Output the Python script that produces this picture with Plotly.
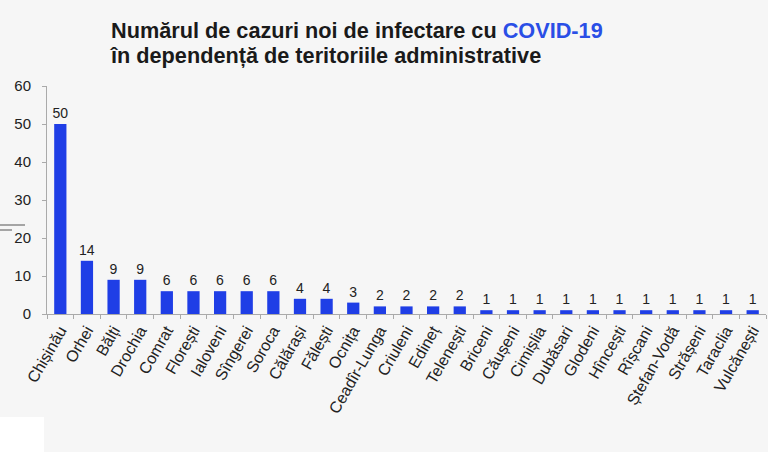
import plotly.graph_objects as go

categories = ["Chișinău", "Orhei", "Bălți", "Drochia", "Comrat", "Florești", "Ialoveni",
              "Sîngerei", "Soroca", "Călărași", "Fălești", "Ocnița", "Ceadîr-Lunga",
              "Criuleni", "Edineț", "Telenești", "Briceni", "Căușeni", "Cimișlia",
              "Dubăsari", "Glodeni", "Hîncești", "Rîșcani", "Ștefan-Vodă", "Strășeni",
              "Taraclia", "Vulcănești"]
values = [50, 14, 9, 9, 6, 6, 6, 6, 6, 4, 4, 3, 2, 2, 2, 2, 1, 1, 1, 1, 1, 1, 1, 1, 1, 1, 1]
y_ticks = [0, 10, 20, 30, 40, 50, 60]

W, H = 768, 452
L, R, T, B = 47, 2, 86, 138
FONT = "Liberation Sans, Arial, sans-serif"
BAR = "#1f3ee6"

fig = go.Figure(go.Bar(
    x=categories, y=values, width=0.46,
    marker=dict(color=BAR, line=dict(width=0)),
    text=[str(v) for v in values], textposition="outside",
    constraintext="none",
    textfont=dict(family=FONT, size=14, color="#222"),
    cliponaxis=False,
))

def px_x(p):
    return (p - L) / (W - L - R)

def px_y(p):
    return (H - B - p) / (H - T - B)

fig.update_layout(
    width=W, height=H,
    margin=dict(l=L, r=R, t=T, b=B, pad=0),
    paper_bgcolor="#f6f6f6", plot_bgcolor="#f6f6f6",
    showlegend=False,
    font=dict(family=FONT, color="#222"),
    xaxis=dict(showgrid=False, showline=True, linecolor="#aaaaaa", linewidth=1,
               ticks="outside", tickson="boundaries", ticklen=4, tickcolor="#aaaaaa",
               tickangle=-60, tickfont=dict(family=FONT, size=16, color="#222")),
    yaxis=dict(range=[0, 60], tickvals=y_ticks, showgrid=False, zeroline=False,
               showline=True, linecolor="#aaaaaa", linewidth=1,
               ticks="outside", ticklen=4, tickcolor="#aaaaaa", ticklabelstandoff=8,
               tickfont=dict(family=FONT, size=15, color="#222")),
    annotations=[
        dict(text="<b>Numărul de cazuri noi de infectare cu <span style='color:#2a4ee6'>COVID-19</span></b>",
             xref="paper", yref="paper", x=px_x(109), y=px_y(45), xanchor="left", yanchor="bottom",
             showarrow=False, font=dict(family=FONT, size=21.7, color="#1a1a1a")),
        dict(text="<b>în dependență de teritoriile administrative</b>",
             xref="paper", yref="paper", x=px_x(108), y=px_y(70), xanchor="left", yanchor="bottom",
             showarrow=False, font=dict(family=FONT, size=21.7, color="#1a1a1a")),
    ],
    shapes=[
        dict(type="rect", xref="paper", yref="paper", x0=px_x(0), x1=px_x(44), y0=px_y(452), y1=px_y(417),
             fillcolor="white", line=dict(width=0), layer="below"),
        dict(type="line", xref="paper", yref="paper", x0=px_x(0), x1=px_x(25), y0=px_y(225), y1=px_y(225),
             line=dict(color="#555", width=1)),
        dict(type="line", xref="paper", yref="paper", x0=px_x(0), x1=px_x(12), y0=px_y(230), y1=px_y(230),
             line=dict(color="#555", width=1)),
    ],
)

fig.write_html("out.html")
